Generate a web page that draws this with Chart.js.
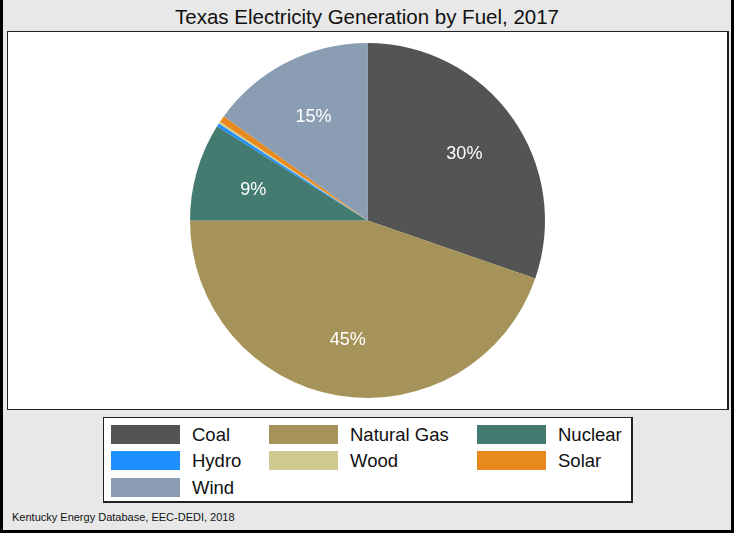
<!DOCTYPE html>
<html>
<head>
<meta charset="utf-8">
<title>Texas Electricity Generation by Fuel, 2017</title>
<script src="https://cdn.jsdelivr.net/npm/chart.js@4/dist/chart.umd.min.js"></script>
<style>
  body { margin: 0; background: #e8e8e8; font-family: "Liberation Sans", Arial, sans-serif; }
  #frame {
    position: absolute; left: 0; top: 0; width: 728px; height: 530px;
    background: #e8e8e8; border-left: 3px solid #000; border-right: 3px solid #000; border-bottom: 3px solid #000;
  }
  #title {
    position: absolute; left: 0; top: 5px; width: 734px; text-align: center;
    font-size: 20.5px; color: #111;
  }
  #plot {
    position: absolute; left: 7px; top: 31px; width: 719px; height: 377px;
    background: #fff; border: 1px solid #222; border-right-width: 2px;
  }
  #legend {
    position: absolute; left: 103px; top: 417px; width: 527px; height: 83px;
    background: #fff; border: 1px solid #222; border-right-width: 2px; border-bottom-width: 2px;
  }
  .item { position: absolute; height: 19px; }
  .swatch { position: absolute; left: 0; top: 0; width: 69px; height: 19px; }
  .lbl { position: absolute; left: 81px; top: -1px; font-size: 18.5px; white-space: nowrap; color: #111; }
  #note { position: absolute; left: 12px; top: 511px; font-size: 11px; color: #111; }
</style>
</head>
<body>
<div id="frame"></div>
<div id="title">Texas Electricity Generation by Fuel, 2017</div>
<div id="plot"><canvas id="myChart" width="719" height="377"></canvas></div>
<div id="legend"></div>
<div id="note">Kentucky Energy Database, EEC-DEDI, 2018</div>
<script>
// Fuentes y porcentaje de la generación
var fuels = ['Coal', 'Natural Gas', 'Nuclear', 'Hydro', 'Wood', 'Solar', 'Wind'];
var shares = [30.3, 44.7, 8.9, 0.3, 0.2, 0.6, 15.0];
var colors = ['#545454', '#a6935a', '#447b71', '#1e8fff', '#d0ca92', '#e8891e', '#8a9db2'];

// Leyenda en tres columnas (ancho de columna según el texto)
var colX = [7, 165, 373];
var rowY = [7, 33, 60];
var legend = document.getElementById('legend');
fuels.forEach(function (name, i) {
  var item = document.createElement('div');
  item.className = 'item';
  item.style.left = colX[i % 3] + 'px';
  item.style.top = rowY[Math.floor(i / 3)] + 'px';
  item.innerHTML = '<div class="swatch" style="background:' + colors[i] + '"></div>' +
    '<div class="lbl">' + name + '</div>';
  legend.appendChild(item);
});

// Etiquetas de porcentaje dentro de las porciones grandes
var pctLabels = {
  id: 'pctLabels',
  afterDatasetsDraw: function (chart) {
    var ctx = chart.ctx;
    var meta = chart.getDatasetMeta(0);
    var total = shares.reduce(function (a, b) { return a + b; }, 0);
    ctx.save();
    ctx.fillStyle = '#fff';
    ctx.font = '18px "Liberation Sans", Arial, sans-serif';
    ctx.textAlign = 'center';
    ctx.textBaseline = 'middle';
    meta.data.forEach(function (arc, i) {
      var pct = shares[i] / total * 100;
      if (pct < 5) return;
      var mid = (arc.startAngle + arc.endAngle) / 2;
      var r = arc.outerRadius * 0.67;
      ctx.fillText(Math.round(pct) + '%', arc.x + Math.cos(mid) * r, arc.y + Math.sin(mid) * r + 2.5);
    });
    ctx.restore();
  }
};

var ctx = document.getElementById('myChart').getContext('2d');
var myChart = new Chart(ctx, {
  type: 'pie',
  data: {
    labels: fuels,
    datasets: [{
      data: shares,
      backgroundColor: colors,
      borderWidth: 0
    }]
  },
  options: {
    responsive: false,
    animation: false,
    layout: { padding: 11 },
    plugins: {
      legend: { display: false },
      tooltip: { enabled: false }
    }
  },
  plugins: [pctLabels]
});
</script>
</body>
</html>
